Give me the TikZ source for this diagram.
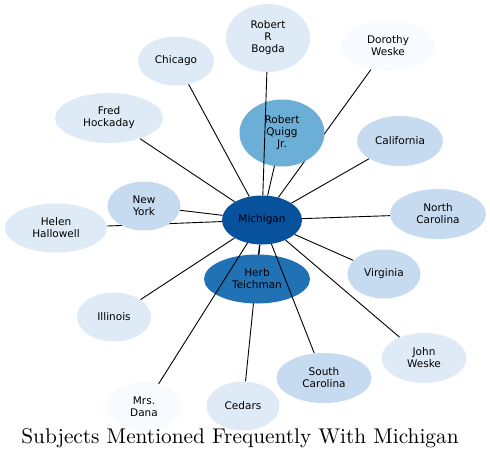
\documentclass[tikz,border=0pt]{standalone}
\usepackage{fontspec}
\newfontfamily\subjfont{DejaVu Sans}
\newfontfamily\titlefont{lmroman10-regular}[Extension=.otf]
\usetikzlibrary{shapes.geometric,backgrounds}

\definecolor{blueI}{HTML}{F7FBFF}
\definecolor{blueII}{HTML}{DEEBF7}
\definecolor{blueIII}{HTML}{C6DBEF}
\definecolor{blueIV}{HTML}{6BAED6}
\definecolor{blueV}{HTML}{2171B5}
\definecolor{blueVI}{HTML}{08519C}

\tikzset{
    subj/.style={ellipse, inner sep=0pt, align=center,
        font=\subjfont\fontsize{10.5}{12}\selectfont},
    link/.style={line width=0.9pt, black}
}

\begin{document}
\begin{tikzpicture}[x=1pt, y=-1pt]
    \useasboundingbox (0, 0) rectangle (490, 467);

    % the hub
    \node[subj, fill=blueVI, minimum width=80, minimum height=49] (mich) at (262, 220) {Michigan};

    % subjects round it
    \node[subj, fill=blueII, minimum width=76, minimum height=49] (chicago) at (176, 61) {Chicago};
    \node[subj, fill=blueII, minimum width=108, minimum height=50] (fred) at (109, 118) {Fred\\Hockaday};
    \node[subj, fill=blueII, minimum width=102, minimum height=49] (helen) at (56, 228) {Helen\\Hallowell};
    \node[subj, fill=blueII, minimum width=84, minimum height=68] (bogda) at (268, 38) {Robert\\R\\Bogda};
    \node[subj, fill=blueI, minimum width=94, minimum height=50] (dorothy) at (388, 46) {Dorothy\\Weske};
    \node[subj, fill=blueIII, minimum width=86, minimum height=50] (calif) at (400, 141) {California};
    \node[subj, fill=blueIII, minimum width=96, minimum height=50] (ncar) at (438, 214) {North\\Carolina};
    \node[subj, fill=blueIII, minimum width=73, minimum height=49] (virg) at (384, 274) {Virginia};
    \node[subj, fill=blueII, minimum width=85, minimum height=50] (john) at (424, 358) {John\\Weske};
    \node[subj, fill=blueIII, minimum width=95, minimum height=50] (scar) at (324, 378) {South\\Carolina};
    \node[subj, fill=blueII, minimum width=73, minimum height=49] (cedars) at (243, 406) {Cedars};
    \node[subj, fill=blueI, minimum width=73, minimum height=50] (dana) at (144, 407) {Mrs.\\Dana};
    \node[subj, fill=blueII, minimum width=74, minimum height=49] (ill) at (114, 317) {Illinois};
    \node[subj, fill=blueIII, minimum width=73, minimum height=49] (ny) at (144, 206) {New\\York};
    \node[subj, fill=blueIV, minimum width=85, minimum height=67] (quigg) at (282, 133) {Robert\\Quigg\\Jr.};
    \node[subj, fill=blueV, minimum width=106, minimum height=49] (herb) at (257, 279) {Herb\\Teichman};

    % links hidden under the nodes
    \begin{scope}[on background layer]
        \draw[link] (mich) -- (chicago);
        \draw[link] (mich) -- (fred);
        \draw[link] (mich) -- (helen);
        \draw[link] (mich) -- (ny);
        \draw[link] (mich) -- (dorothy);
        \draw[link] (mich) -- (quigg);
        \draw[link] (mich) -- (calif);
        \draw[link] (mich) -- (ncar);
        \draw[link] (mich) -- (virg);
        \draw[link] (mich) -- (john);
        \draw[link] (mich) -- (cedars);
        \draw[link] (mich) -- (herb);
        \draw[link] (mich) -- (ill);
    \end{scope}

    % links drawn over the nodes
    \draw[link] (mich) -- (bogda);
    \draw[link] (mich) -- (dana);
    \draw[link] (mich) -- (scar);

    \node[anchor=base, font=\titlefont\fontsize{21.3}{24}\selectfont] (title) at (240, 443)
        {Subjects Mentioned Frequently With Michigan};
\end{tikzpicture}
\end{document}
